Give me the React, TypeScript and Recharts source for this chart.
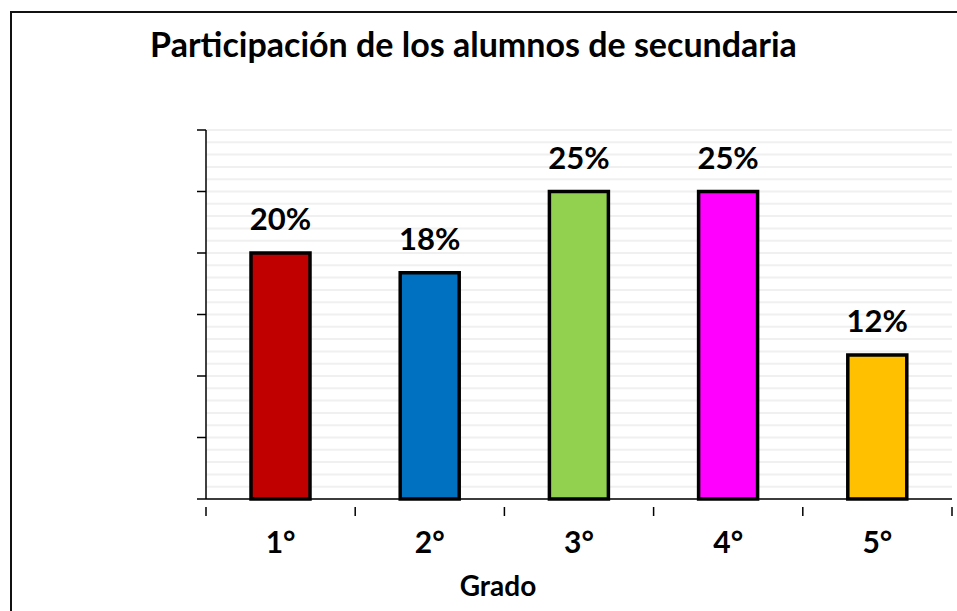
import { BarChart, Bar, XAxis, YAxis, CartesianGrid, Cell, LabelList } from "recharts";

const grados = ["1°", "2°", "3°", "4°", "5°"];
const participacion = [20, 18.4, 25, 25, 11.7];
const colores = ["#C00000", "#0070C0", "#92D050", "#FF00FF", "#FFC000"];
const yTicks = Array.from({ length: 31 }, (_, i) => i);

const data = grados.map((g, i) => ({ grado: g, valor: participacion[i] }));

const W = 957;
const H = 611;
const LEFT = 206;
const RIGHT = 5;
const FONT = "Lato, 'Noto Sans', sans-serif";

function XTick(props: any) {
  const { x, y, payload, index } = props;
  const band = (W - LEFT - RIGHT) / grados.length;
  const left = x - band / 2;
  return (
    <g>
      <line x1={left} x2={left} y1={y} y2={y + 9} stroke="#000" strokeWidth={1.5} />
      {index === grados.length - 1 && (
        <line x1={left + band} x2={left + band} y1={y} y2={y + 9} stroke="#000" strokeWidth={1.5} />
      )}
      <text x={x} y={y + 46} textAnchor="middle" fontFamily={FONT} fontWeight={700} fontSize={30} fill="#000">
        {payload.value}
      </text>
    </g>
  );
}

function YTick(props: any) {
  const { x, y, payload } = props;
  if (payload.value % 5 !== 0) return <g />;
  return <line x1={x - 1} x2={x + 8} y1={y} y2={y} stroke="#000" strokeWidth={1.5} />;
}

export default function App() {
  return (
    <div style={{ position: "fixed", left: 0, top: 0, width: W, height: H, overflow: "hidden", background: "#fff" }}>
      <div
        style={{
          position: "absolute",
          left: 10,
          top: 11,
          width: 1000,
          height: 700,
          border: "2px solid #111",
        }}
      />
      <div
        style={{
          position: "absolute",
          left: 0,
          width: 947,
          top: 23,
          textAlign: "center",
          fontFamily: FONT,
          fontWeight: 700,
          fontSize: 34,
          color: "#000",
        }}
      >
        Participación de los alumnos de secundaria
      </div>
      <div
        style={{
          position: "absolute",
          left: 398,
          width: 200,
          top: 568,
          textAlign: "center",
          fontFamily: FONT,
          fontWeight: 700,
          fontSize: 28,
          color: "#000",
        }}
      >
        Grado
      </div>
      <div style={{ position: "absolute", left: 0, top: 0 }}>
        <BarChart width={W} height={H} data={data} margin={{ top: 130, right: RIGHT, left: 0, bottom: 0 }}>
          <CartesianGrid vertical={false} stroke="#F0F0F0" strokeWidth={2} />
          <XAxis
            dataKey="grado"
            height={112}
            axisLine={{ stroke: "#000", strokeWidth: 1.5 }}
            tickLine={false}
            tick={<XTick />}
            interval={0}
          />
          <YAxis
            width={LEFT}
            domain={[0, 30]}
            ticks={yTicks}
            interval={0}
            axisLine={{ stroke: "#000", strokeWidth: 1.5 }}
            tickLine={false}
            tick={<YTick />}
          />
          <Bar dataKey="valor" barSize={59} stroke="#000" strokeWidth={3.5} isAnimationActive={false}>
            {data.map((_, i) => (
              <Cell key={i} fill={colores[i]} />
            ))}
            <LabelList
              dataKey="valor"
              position="top"
              offset={23}
              formatter={(v: any) => `${Math.round(Number(v))}%`}
              fill="#000"
              fontFamily={FONT}
              fontWeight={700}
              fontSize={31}
            />
          </Bar>
        </BarChart>
      </div>
    </div>
  );
}
